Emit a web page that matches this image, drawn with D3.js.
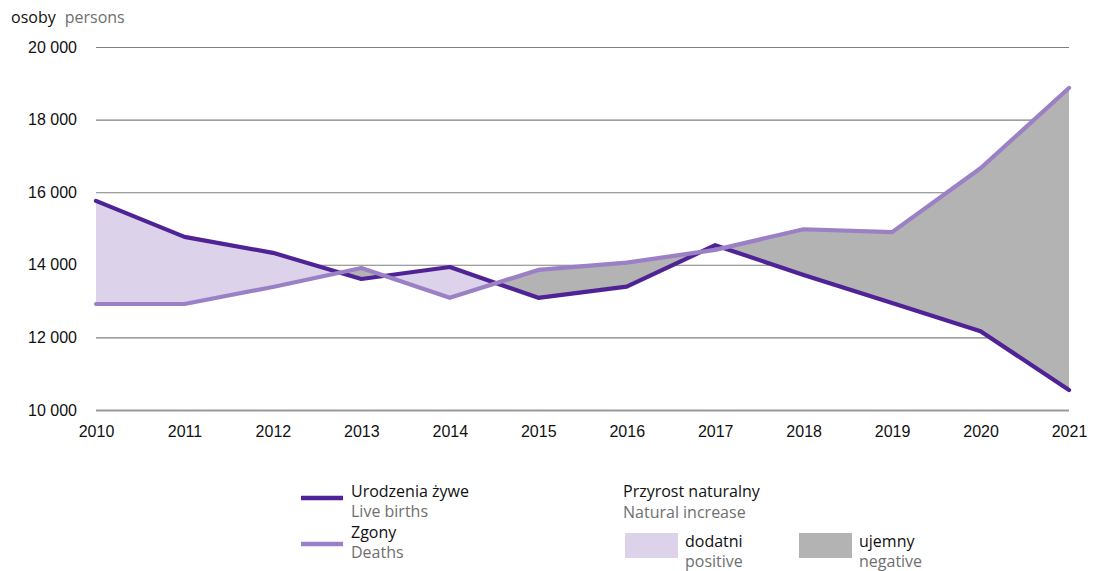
<!DOCTYPE html>
<html>
<head>
<meta charset="utf-8">
<script src="https://cdn.jsdelivr.net/npm/d3@7/dist/d3.min.js"></script>
<style>
  html, body { margin: 0; padding: 0; background: #fff; }
  svg { display: block; font-family: "Open Sans", "Noto Sans", sans-serif; }
</style>
</head>
<body>
<svg id="chart" width="1095" height="571"></svg>
<script>
// Live births and deaths per year (persons)
const years = [2010, 2011, 2012, 2013, 2014, 2015, 2016, 2017, 2018, 2019, 2020, 2021];
const births = [15760, 14770, 14330, 13610, 13940, 13090, 13400, 14540, 13720, 12950, 12170, 10550];
const deaths = [12920, 12920, 13390, 13910, 13090, 13860, 14060, 14410, 14980, 14900, 16660, 18870];
const yTicks = [10000, 12000, 14000, 16000, 18000, 20000];

const colors = {
  births: "#4f2396",
  deaths: "#9b80c5",
  positive: "#dcd3ea",
  negative: "#b3b3b3",
  grid: "#808080",
  muted: "#6f6f6f"
};

const svg = d3.select("#chart");
const margin = { left: 96, right: 26, top: 47, bottom: 161 };
const W = 1095, H = 571;
const FS = 16;

const x = d3.scaleLinear().domain([2010, 2021]).range([margin.left, W - margin.right]);
const y = d3.scaleLinear().domain([10000, 20000]).range([H - margin.bottom, margin.top]);

const fmt = d3.formatLocale({ decimal: ",", thousands: " ", grouping: [3], currency: ["", ""] }).format(",d");

// Gridlines and y labels
const yAxis = svg.append("g")
  .attr("transform", `translate(${margin.left},0)`)
  .call(d3.axisLeft(y).tickValues(yTicks).tickSize(-(W - margin.right - margin.left)).tickFormat(fmt).tickPadding(19));
yAxis.select(".domain").remove();
yAxis.selectAll(".tick line").attr("stroke", colors.grid).attr("stroke-width", 1.1);
yAxis.selectAll(".tick").filter(d => d === 10000).select("line").attr("stroke", "#999").attr("stroke-width", 2);
yAxis.selectAll(".tick text").attr("font-size", FS).attr("fill", "#111");

// Year labels
const xAxis = svg.append("g")
  .attr("transform", `translate(0,${H - margin.bottom})`)
  .call(d3.axisBottom(x).tickValues(years).tickFormat(d3.format("d")).tickSize(0).tickPadding(16));
xAxis.select(".domain").remove();
xAxis.selectAll(".tick text").attr("font-size", FS).attr("fill", "#111");

// Build series with crossing points inserted so the fills split exactly where the lines meet
const pts = [];
for (let i = 0; i < years.length; i++) {
  pts.push({ t: years[i], b: births[i], d: deaths[i] });
  if (i < years.length - 1) {
    const g0 = births[i] - deaths[i], g1 = births[i + 1] - deaths[i + 1];
    if (g0 * g1 < 0) {
      const f = g0 / (g0 - g1);
      const bc = births[i] + f * (births[i + 1] - births[i]);
      pts.push({ t: years[i] + f, b: bc, d: bc });
    }
  }
}

const posArea = d3.area().x(p => x(p.t)).y0(p => y(p.d)).y1(p => y(Math.max(p.b, p.d)));
const negArea = d3.area().x(p => x(p.t)).y0(p => y(p.b)).y1(p => y(Math.max(p.b, p.d)));

svg.append("path").datum(pts).attr("d", posArea).attr("fill", colors.positive);
svg.append("path").datum(pts).attr("d", negArea).attr("fill", colors.negative);

// Lines
const line = d3.line().x((v, i) => x(years[i])).y(v => y(v));
svg.append("path").datum(births).attr("d", line)
  .attr("fill", "none").attr("stroke", colors.births).attr("stroke-width", 4.2)
  .attr("stroke-linejoin", "round").attr("stroke-linecap", "round");
svg.append("path").datum(deaths).attr("d", line)
  .attr("fill", "none").attr("stroke", colors.deaths).attr("stroke-width", 4.2)
  .attr("stroke-linejoin", "round").attr("stroke-linecap", "round");

// Unit caption
const cap = svg.append("text").attr("x", 11).attr("y", 23).attr("font-size", FS);
cap.append("tspan").attr("fill", "#111").text("osoby");
cap.append("tspan").attr("fill", colors.muted).attr("dx", 9).text("persons");

// Legend
const lg = svg.append("g").attr("font-size", FS);
const lineItems = [
  { color: colors.births, y: 498 },
  { color: colors.deaths, y: 544 }
];
lineItems.forEach(it => {
  lg.append("line").attr("x1", 301).attr("x2", 343).attr("y1", it.y).attr("y2", it.y)
    .attr("stroke", it.color).attr("stroke-width", 4.5);
});
lg.append("text").attr("x", 351).attr("y", 497).attr("fill", "#111").text("Urodzenia żywe");
lg.append("text").attr("x", 351).attr("y", 517).attr("fill", colors.muted).text("Live births");
lg.append("text").attr("x", 351).attr("y", 538).attr("fill", "#111").text("Zgony");
lg.append("text").attr("x", 351).attr("y", 558).attr("fill", colors.muted).text("Deaths");

lg.append("text").attr("x", 623).attr("y", 497).attr("fill", "#111").text("Przyrost naturalny");
lg.append("text").attr("x", 623).attr("y", 518).attr("fill", colors.muted).text("Natural increase");

const fillItems = [
  { pl: "dodatni", en: "positive", color: colors.positive, x: 625 },
  { pl: "ujemny", en: "negative", color: colors.negative, x: 799 }
];
fillItems.forEach(it => {
  lg.append("rect").attr("x", it.x).attr("y", 533).attr("width", 53).attr("height", 25).attr("fill", it.color);
  lg.append("text").attr("x", it.x + 60).attr("y", 547).attr("fill", "#111").text(it.pl);
  lg.append("text").attr("x", it.x + 60).attr("y", 567).attr("fill", colors.muted).text(it.en);
});
</script>
</body>
</html>
